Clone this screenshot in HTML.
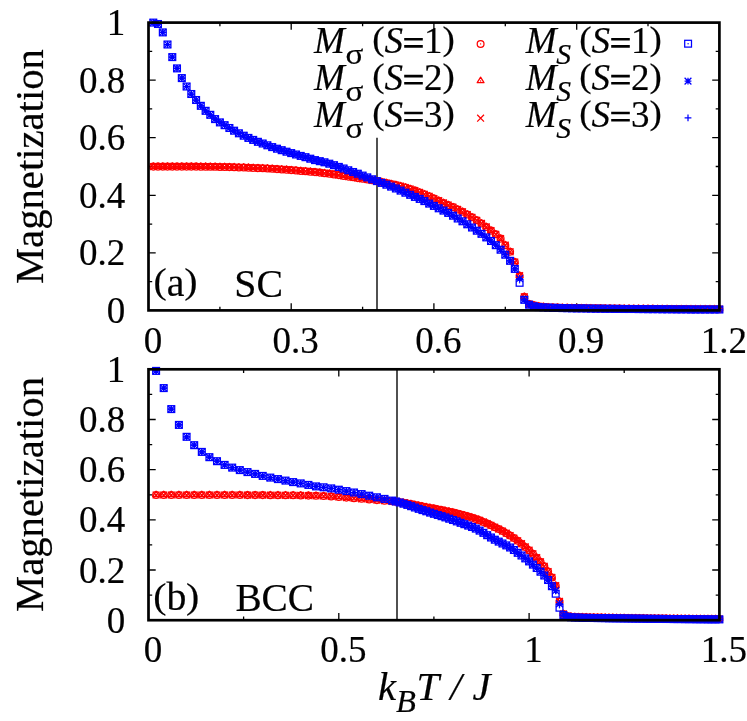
<!DOCTYPE html>
<html lang="en"><head><meta charset="utf-8"><title>Magnetization vs temperature</title>
<style>
html,body{margin:0;padding:0;background:#fff;}
body{width:747px;height:721px;overflow:hidden;font-family:"Liberation Serif",serif;}
svg{display:block;}
text{font-family:"Liberation Serif",serif;fill:#000;stroke:#000;stroke-width:0.2;}
.it{font-style:italic;}
.r{stroke:#f00;fill:none;stroke-width:1.25;}
.b{stroke:#00f;fill:none;stroke-width:1.25;}
.fr{fill:none;stroke:#000;stroke-width:2.7;}
.tk{stroke:#000;stroke-width:1.3;fill:none;}
</style></head><body>
<svg width="747" height="721" viewBox="0 0 747 721">
<rect x="0" y="0" width="747" height="721" fill="#fff"/>
<defs>
<g id="c" class="r"><circle r="3.4"/><circle r="0.7" fill="#f00" stroke="none"/></g>
<g id="t" class="r"><path d="M0 -3.8L3.4 1.7L-3.4 1.7Z" stroke-linejoin="round"/><circle r="0.7" fill="#f00" stroke="none"/></g>
<g id="x" class="r"><path d="M-3.4 -3.4L3.4 3.4M-3.4 3.4L3.4 -3.4"/></g>
<g id="s" class="b"><rect x="-3.4" y="-3.4" width="6.8" height="6.8"/><circle r="0.7" fill="#00f" stroke="none"/></g>
<g id="a" class="b"><path d="M-3.4 0H3.4M0 -3.4V3.4M-3.4 -3.4L3.4 3.4M-3.4 3.4L3.4 -3.4"/></g>
<g id="p" class="b"><path d="M-3.4 0H3.4M0 -3.4V3.4"/></g>
</defs>
<path class="tk" d="M291.2 310.4v-7.2 M291.2 22.6v7.2 M433.9 310.4v-7.2 M433.9 22.6v7.2 M576.7 310.4v-7.2 M576.7 22.6v7.2 M219.9 310.4v-3.7 M219.9 22.6v3.7 M362.6 310.4v-3.7 M362.6 22.6v3.7 M505.3 310.4v-3.7 M505.3 22.6v3.7 M648 310.4v-3.7 M648 22.6v3.7 M148.5 252.8h7.2 M719.4 252.8h-7.2 M148.5 195.3h7.2 M719.4 195.3h-7.2 M148.5 137.7h7.2 M719.4 137.7h-7.2 M148.5 80.2h7.2 M719.4 80.2h-7.2 M148.5 281.6h3.7 M719.4 281.6h-3.7 M148.5 224.1h3.7 M719.4 224.1h-3.7 M148.5 166.5h3.7 M719.4 166.5h-3.7 M148.5 108.9h3.7 M719.4 108.9h-3.7 M148.5 51.4h3.7 M719.4 51.4h-3.7"/>
<path class="tk" d="M338.8 620.2v-7.2 M338.8 369.3v7.2 M529.1 620.2v-7.2 M529.1 369.3v7.2 M243.6 620.2v-3.7 M243.6 369.3v3.7 M433.9 620.2v-3.7 M433.9 369.3v3.7 M624.2 620.2v-3.7 M624.2 369.3v3.7 M148.5 570h7.2 M719.4 570h-7.2 M148.5 519.8h7.2 M719.4 519.8h-7.2 M148.5 469.7h7.2 M719.4 469.7h-7.2 M148.5 419.5h7.2 M719.4 419.5h-7.2 M148.5 595.1h3.7 M719.4 595.1h-3.7 M148.5 544.9h3.7 M719.4 544.9h-3.7 M148.5 494.8h3.7 M719.4 494.8h-3.7 M148.5 444.6h3.7 M719.4 444.6h-3.7 M148.5 394.4h3.7 M719.4 394.4h-3.7"/>
<path d="M377 137.8V310.4" stroke="#484848" stroke-width="1.9" fill="none"/>
<path d="M397 369.3V620.2" stroke="#484848" stroke-width="1.9" fill="none"/>
<g id="panel-a-data">
<g>
<use href="#c" x="153.3" y="166.6"/>
<use href="#c" x="158" y="166.6"/>
<use href="#c" x="162.8" y="166.6"/>
<use href="#c" x="167.5" y="166.6"/>
<use href="#c" x="172.3" y="166.6"/>
<use href="#c" x="177" y="166.6"/>
<use href="#c" x="181.8" y="166.6"/>
<use href="#c" x="186.6" y="166.6"/>
<use href="#c" x="191.3" y="166.6"/>
<use href="#c" x="196.1" y="166.6"/>
<use href="#c" x="200.8" y="166.7"/>
<use href="#c" x="205.6" y="166.7"/>
<use href="#c" x="210.3" y="166.8"/>
<use href="#c" x="215.1" y="166.8"/>
<use href="#c" x="219.9" y="166.9"/>
<use href="#c" x="224.6" y="167"/>
<use href="#c" x="229.4" y="167.1"/>
<use href="#c" x="234.1" y="167.2"/>
<use href="#c" x="238.9" y="167.4"/>
<use href="#c" x="243.7" y="167.5"/>
<use href="#c" x="248.4" y="167.7"/>
<use href="#c" x="253.2" y="167.9"/>
<use href="#c" x="257.9" y="168.1"/>
<use href="#c" x="262.7" y="168.3"/>
<use href="#c" x="267.4" y="168.5"/>
<use href="#c" x="272.2" y="168.8"/>
<use href="#c" x="277" y="169.1"/>
<use href="#c" x="281.7" y="169.4"/>
<use href="#c" x="286.5" y="169.7"/>
<use href="#c" x="291.2" y="170.1"/>
<use href="#c" x="296" y="170.5"/>
<use href="#c" x="300.7" y="170.9"/>
<use href="#c" x="305.5" y="171.3"/>
<use href="#c" x="310.3" y="171.7"/>
<use href="#c" x="315" y="172.1"/>
<use href="#c" x="319.8" y="172.6"/>
<use href="#c" x="324.5" y="173.2"/>
<use href="#c" x="329.3" y="173.7"/>
<use href="#c" x="334" y="174.4"/>
<use href="#c" x="338.8" y="175.1"/>
<use href="#c" x="343.6" y="175.9"/>
<use href="#c" x="348.3" y="176.6"/>
<use href="#c" x="353.1" y="177.3"/>
<use href="#c" x="357.8" y="178.1"/>
<use href="#c" x="362.6" y="178.8"/>
<use href="#c" x="367.3" y="179.5"/>
<use href="#c" x="372.1" y="180.3"/>
<use href="#c" x="376.9" y="181.2"/>
<use href="#c" x="381.6" y="182"/>
<use href="#c" x="386.4" y="183"/>
<use href="#c" x="391.1" y="184"/>
<use href="#c" x="395.9" y="185"/>
<use href="#c" x="400.6" y="186.2"/>
<use href="#c" x="405.4" y="187.5"/>
<use href="#c" x="410.2" y="189"/>
<use href="#c" x="414.9" y="190.6"/>
<use href="#c" x="419.7" y="192.4"/>
<use href="#c" x="424.4" y="194.3"/>
<use href="#c" x="429.2" y="196.3"/>
<use href="#c" x="433.9" y="198.5"/>
<use href="#c" x="438.7" y="200.7"/>
<use href="#c" x="443.5" y="202.9"/>
<use href="#c" x="448.2" y="205"/>
<use href="#c" x="453" y="207.1"/>
<use href="#c" x="457.7" y="209.4"/>
<use href="#c" x="462.5" y="211.8"/>
<use href="#c" x="467.3" y="214.5"/>
<use href="#c" x="472" y="217.3"/>
<use href="#c" x="476.8" y="220.3"/>
<use href="#c" x="481.5" y="223.4"/>
<use href="#c" x="486.3" y="226.9"/>
<use href="#c" x="491" y="230.6"/>
<use href="#c" x="495.8" y="234.3"/>
<use href="#c" x="500.6" y="238.6"/>
<use href="#c" x="505.3" y="245.2"/>
<use href="#c" x="510.1" y="251.8"/>
<use href="#c" x="514.8" y="262"/>
<use href="#c" x="519.6" y="275.7"/>
<use href="#c" x="524.3" y="296.8"/>
<use href="#c" x="529.1" y="304.1"/>
<use href="#c" x="533.9" y="305.3"/>
<use href="#c" x="538.6" y="306.3"/>
<use href="#c" x="543.4" y="306.9"/>
<use href="#c" x="548.1" y="307.3"/>
<use href="#c" x="552.9" y="307.5"/>
<use href="#c" x="557.6" y="307.6"/>
<use href="#c" x="562.4" y="307.8"/>
<use href="#c" x="567.2" y="307.9"/>
<use href="#c" x="571.9" y="308"/>
<use href="#c" x="576.7" y="308.1"/>
<use href="#c" x="581.4" y="308.1"/>
<use href="#c" x="586.2" y="308.2"/>
<use href="#c" x="590.9" y="308.3"/>
<use href="#c" x="595.7" y="308.4"/>
<use href="#c" x="600.5" y="308.4"/>
<use href="#c" x="605.2" y="308.5"/>
<use href="#c" x="610" y="308.5"/>
<use href="#c" x="614.7" y="308.6"/>
<use href="#c" x="619.5" y="308.6"/>
<use href="#c" x="624.2" y="308.7"/>
<use href="#c" x="629" y="308.7"/>
<use href="#c" x="633.8" y="308.8"/>
<use href="#c" x="638.5" y="308.8"/>
<use href="#c" x="643.3" y="308.8"/>
<use href="#c" x="648" y="308.9"/>
<use href="#c" x="652.8" y="308.9"/>
<use href="#c" x="657.6" y="309"/>
<use href="#c" x="662.3" y="309"/>
<use href="#c" x="667.1" y="309"/>
<use href="#c" x="671.8" y="309.1"/>
<use href="#c" x="676.6" y="309.1"/>
<use href="#c" x="681.3" y="309.1"/>
<use href="#c" x="686.1" y="309.1"/>
<use href="#c" x="690.9" y="309.2"/>
<use href="#c" x="695.6" y="309.2"/>
<use href="#c" x="700.4" y="309.2"/>
<use href="#c" x="705.1" y="309.2"/>
<use href="#c" x="709.9" y="309.2"/>
<use href="#c" x="714.6" y="309.2"/>
<use href="#c" x="719.4" y="309.2"/>
</g>
<g>
<use href="#t" x="153.3" y="166.6"/>
<use href="#t" x="158" y="166.6"/>
<use href="#t" x="162.8" y="166.6"/>
<use href="#t" x="167.5" y="166.6"/>
<use href="#t" x="172.3" y="166.6"/>
<use href="#t" x="177" y="166.6"/>
<use href="#t" x="181.8" y="166.6"/>
<use href="#t" x="186.6" y="166.6"/>
<use href="#t" x="191.3" y="166.6"/>
<use href="#t" x="196.1" y="166.6"/>
<use href="#t" x="200.8" y="166.7"/>
<use href="#t" x="205.6" y="166.7"/>
<use href="#t" x="210.3" y="166.8"/>
<use href="#t" x="215.1" y="166.8"/>
<use href="#t" x="219.9" y="166.9"/>
<use href="#t" x="224.6" y="167"/>
<use href="#t" x="229.4" y="167.1"/>
<use href="#t" x="234.1" y="167.2"/>
<use href="#t" x="238.9" y="167.4"/>
<use href="#t" x="243.7" y="167.5"/>
<use href="#t" x="248.4" y="167.7"/>
<use href="#t" x="253.2" y="167.9"/>
<use href="#t" x="257.9" y="168.1"/>
<use href="#t" x="262.7" y="168.3"/>
<use href="#t" x="267.4" y="168.5"/>
<use href="#t" x="272.2" y="168.8"/>
<use href="#t" x="277" y="169.1"/>
<use href="#t" x="281.7" y="169.4"/>
<use href="#t" x="286.5" y="169.7"/>
<use href="#t" x="291.2" y="170.1"/>
<use href="#t" x="296" y="170.5"/>
<use href="#t" x="300.7" y="170.9"/>
<use href="#t" x="305.5" y="171.3"/>
<use href="#t" x="310.3" y="171.7"/>
<use href="#t" x="315" y="172.1"/>
<use href="#t" x="319.8" y="172.6"/>
<use href="#t" x="324.5" y="173.2"/>
<use href="#t" x="329.3" y="173.7"/>
<use href="#t" x="334" y="174.4"/>
<use href="#t" x="338.8" y="175.1"/>
<use href="#t" x="343.6" y="175.9"/>
<use href="#t" x="348.3" y="176.6"/>
<use href="#t" x="353.1" y="177.3"/>
<use href="#t" x="357.8" y="178.1"/>
<use href="#t" x="362.6" y="178.8"/>
<use href="#t" x="367.3" y="179.5"/>
<use href="#t" x="372.1" y="180.3"/>
<use href="#t" x="376.9" y="181.2"/>
<use href="#t" x="381.6" y="182"/>
<use href="#t" x="386.4" y="183"/>
<use href="#t" x="391.1" y="184"/>
<use href="#t" x="395.9" y="185"/>
<use href="#t" x="400.6" y="186.2"/>
<use href="#t" x="405.4" y="187.5"/>
<use href="#t" x="410.2" y="189"/>
<use href="#t" x="414.9" y="190.6"/>
<use href="#t" x="419.7" y="192.4"/>
<use href="#t" x="424.4" y="194.3"/>
<use href="#t" x="429.2" y="196.3"/>
<use href="#t" x="433.9" y="198.5"/>
<use href="#t" x="438.7" y="200.7"/>
<use href="#t" x="443.5" y="202.9"/>
<use href="#t" x="448.2" y="205"/>
<use href="#t" x="453" y="207.1"/>
<use href="#t" x="457.7" y="209.4"/>
<use href="#t" x="462.5" y="211.8"/>
<use href="#t" x="467.3" y="214.5"/>
<use href="#t" x="472" y="217.3"/>
<use href="#t" x="476.8" y="220.3"/>
<use href="#t" x="481.5" y="223.4"/>
<use href="#t" x="486.3" y="226.9"/>
<use href="#t" x="491" y="230.6"/>
<use href="#t" x="495.8" y="234.3"/>
<use href="#t" x="500.6" y="238.6"/>
<use href="#t" x="505.3" y="245.2"/>
<use href="#t" x="510.1" y="251.8"/>
<use href="#t" x="514.8" y="262"/>
<use href="#t" x="519.6" y="275.7"/>
<use href="#t" x="524.3" y="296.8"/>
<use href="#t" x="529.1" y="304.1"/>
<use href="#t" x="533.9" y="305.3"/>
<use href="#t" x="538.6" y="306.3"/>
<use href="#t" x="543.4" y="306.9"/>
<use href="#t" x="548.1" y="307.3"/>
<use href="#t" x="552.9" y="307.5"/>
<use href="#t" x="557.6" y="307.6"/>
<use href="#t" x="562.4" y="307.8"/>
<use href="#t" x="567.2" y="307.9"/>
<use href="#t" x="571.9" y="308"/>
<use href="#t" x="576.7" y="308.1"/>
<use href="#t" x="581.4" y="308.1"/>
<use href="#t" x="586.2" y="308.2"/>
<use href="#t" x="590.9" y="308.3"/>
<use href="#t" x="595.7" y="308.4"/>
<use href="#t" x="600.5" y="308.4"/>
<use href="#t" x="605.2" y="308.5"/>
<use href="#t" x="610" y="308.5"/>
<use href="#t" x="614.7" y="308.6"/>
<use href="#t" x="619.5" y="308.6"/>
<use href="#t" x="624.2" y="308.7"/>
<use href="#t" x="629" y="308.7"/>
<use href="#t" x="633.8" y="308.8"/>
<use href="#t" x="638.5" y="308.8"/>
<use href="#t" x="643.3" y="308.8"/>
<use href="#t" x="648" y="308.9"/>
<use href="#t" x="652.8" y="308.9"/>
<use href="#t" x="657.6" y="309"/>
<use href="#t" x="662.3" y="309"/>
<use href="#t" x="667.1" y="309"/>
<use href="#t" x="671.8" y="309.1"/>
<use href="#t" x="676.6" y="309.1"/>
<use href="#t" x="681.3" y="309.1"/>
<use href="#t" x="686.1" y="309.1"/>
<use href="#t" x="690.9" y="309.2"/>
<use href="#t" x="695.6" y="309.2"/>
<use href="#t" x="700.4" y="309.2"/>
<use href="#t" x="705.1" y="309.2"/>
<use href="#t" x="709.9" y="309.2"/>
<use href="#t" x="714.6" y="309.2"/>
<use href="#t" x="719.4" y="309.2"/>
</g>
<g>
<use href="#x" x="153.3" y="166.6"/>
<use href="#x" x="158" y="166.6"/>
<use href="#x" x="162.8" y="166.6"/>
<use href="#x" x="167.5" y="166.6"/>
<use href="#x" x="172.3" y="166.6"/>
<use href="#x" x="177" y="166.6"/>
<use href="#x" x="181.8" y="166.6"/>
<use href="#x" x="186.6" y="166.6"/>
<use href="#x" x="191.3" y="166.6"/>
<use href="#x" x="196.1" y="166.6"/>
<use href="#x" x="200.8" y="166.7"/>
<use href="#x" x="205.6" y="166.7"/>
<use href="#x" x="210.3" y="166.8"/>
<use href="#x" x="215.1" y="166.8"/>
<use href="#x" x="219.9" y="166.9"/>
<use href="#x" x="224.6" y="167"/>
<use href="#x" x="229.4" y="167.1"/>
<use href="#x" x="234.1" y="167.2"/>
<use href="#x" x="238.9" y="167.4"/>
<use href="#x" x="243.7" y="167.5"/>
<use href="#x" x="248.4" y="167.7"/>
<use href="#x" x="253.2" y="167.9"/>
<use href="#x" x="257.9" y="168.1"/>
<use href="#x" x="262.7" y="168.3"/>
<use href="#x" x="267.4" y="168.5"/>
<use href="#x" x="272.2" y="168.8"/>
<use href="#x" x="277" y="169.1"/>
<use href="#x" x="281.7" y="169.4"/>
<use href="#x" x="286.5" y="169.7"/>
<use href="#x" x="291.2" y="170.1"/>
<use href="#x" x="296" y="170.5"/>
<use href="#x" x="300.7" y="170.9"/>
<use href="#x" x="305.5" y="171.3"/>
<use href="#x" x="310.3" y="171.7"/>
<use href="#x" x="315" y="172.1"/>
<use href="#x" x="319.8" y="172.6"/>
<use href="#x" x="324.5" y="173.2"/>
<use href="#x" x="329.3" y="173.7"/>
<use href="#x" x="334" y="174.4"/>
<use href="#x" x="338.8" y="175.1"/>
<use href="#x" x="343.6" y="175.9"/>
<use href="#x" x="348.3" y="176.6"/>
<use href="#x" x="353.1" y="177.3"/>
<use href="#x" x="357.8" y="178.1"/>
<use href="#x" x="362.6" y="178.8"/>
<use href="#x" x="367.3" y="179.5"/>
<use href="#x" x="372.1" y="180.3"/>
<use href="#x" x="376.9" y="181.2"/>
<use href="#x" x="381.6" y="182"/>
<use href="#x" x="386.4" y="183"/>
<use href="#x" x="391.1" y="184"/>
<use href="#x" x="395.9" y="185"/>
<use href="#x" x="400.6" y="186.2"/>
<use href="#x" x="405.4" y="187.5"/>
<use href="#x" x="410.2" y="189"/>
<use href="#x" x="414.9" y="190.6"/>
<use href="#x" x="419.7" y="192.4"/>
<use href="#x" x="424.4" y="194.3"/>
<use href="#x" x="429.2" y="196.3"/>
<use href="#x" x="433.9" y="198.5"/>
<use href="#x" x="438.7" y="200.7"/>
<use href="#x" x="443.5" y="202.9"/>
<use href="#x" x="448.2" y="205"/>
<use href="#x" x="453" y="207.1"/>
<use href="#x" x="457.7" y="209.4"/>
<use href="#x" x="462.5" y="211.8"/>
<use href="#x" x="467.3" y="214.5"/>
<use href="#x" x="472" y="217.3"/>
<use href="#x" x="476.8" y="220.3"/>
<use href="#x" x="481.5" y="223.4"/>
<use href="#x" x="486.3" y="226.9"/>
<use href="#x" x="491" y="230.6"/>
<use href="#x" x="495.8" y="234.3"/>
<use href="#x" x="500.6" y="238.6"/>
<use href="#x" x="505.3" y="245.2"/>
<use href="#x" x="510.1" y="251.8"/>
<use href="#x" x="514.8" y="262"/>
<use href="#x" x="519.6" y="275.7"/>
<use href="#x" x="524.3" y="296.8"/>
<use href="#x" x="529.1" y="304.1"/>
<use href="#x" x="533.9" y="305.3"/>
<use href="#x" x="538.6" y="306.3"/>
<use href="#x" x="543.4" y="306.9"/>
<use href="#x" x="548.1" y="307.3"/>
<use href="#x" x="552.9" y="307.5"/>
<use href="#x" x="557.6" y="307.6"/>
<use href="#x" x="562.4" y="307.8"/>
<use href="#x" x="567.2" y="307.9"/>
<use href="#x" x="571.9" y="308"/>
<use href="#x" x="576.7" y="308.1"/>
<use href="#x" x="581.4" y="308.1"/>
<use href="#x" x="586.2" y="308.2"/>
<use href="#x" x="590.9" y="308.3"/>
<use href="#x" x="595.7" y="308.4"/>
<use href="#x" x="600.5" y="308.4"/>
<use href="#x" x="605.2" y="308.5"/>
<use href="#x" x="610" y="308.5"/>
<use href="#x" x="614.7" y="308.6"/>
<use href="#x" x="619.5" y="308.6"/>
<use href="#x" x="624.2" y="308.7"/>
<use href="#x" x="629" y="308.7"/>
<use href="#x" x="633.8" y="308.8"/>
<use href="#x" x="638.5" y="308.8"/>
<use href="#x" x="643.3" y="308.8"/>
<use href="#x" x="648" y="308.9"/>
<use href="#x" x="652.8" y="308.9"/>
<use href="#x" x="657.6" y="309"/>
<use href="#x" x="662.3" y="309"/>
<use href="#x" x="667.1" y="309"/>
<use href="#x" x="671.8" y="309.1"/>
<use href="#x" x="676.6" y="309.1"/>
<use href="#x" x="681.3" y="309.1"/>
<use href="#x" x="686.1" y="309.1"/>
<use href="#x" x="690.9" y="309.2"/>
<use href="#x" x="695.6" y="309.2"/>
<use href="#x" x="700.4" y="309.2"/>
<use href="#x" x="705.1" y="309.2"/>
<use href="#x" x="709.9" y="309.2"/>
<use href="#x" x="714.6" y="309.2"/>
<use href="#x" x="719.4" y="309.2"/>
</g>
<g>
<use href="#s" x="153.3" y="22.6"/>
<use href="#s" x="158" y="24"/>
<use href="#s" x="162.8" y="32.4"/>
<use href="#s" x="167.5" y="44.5"/>
<use href="#s" x="172.3" y="57.1"/>
<use href="#s" x="177" y="68.4"/>
<use href="#s" x="181.8" y="78.1"/>
<use href="#s" x="186.6" y="86.5"/>
<use href="#s" x="191.3" y="94"/>
<use href="#s" x="196.1" y="100"/>
<use href="#s" x="200.8" y="105.8"/>
<use href="#s" x="205.6" y="110.8"/>
<use href="#s" x="210.3" y="114.8"/>
<use href="#s" x="215.1" y="119.1"/>
<use href="#s" x="219.9" y="122.4"/>
<use href="#s" x="224.6" y="125.2"/>
<use href="#s" x="229.4" y="128"/>
<use href="#s" x="234.1" y="130.7"/>
<use href="#s" x="238.9" y="133.3"/>
<use href="#s" x="243.7" y="135.7"/>
<use href="#s" x="248.4" y="137.9"/>
<use href="#s" x="253.2" y="139.9"/>
<use href="#s" x="257.9" y="141.8"/>
<use href="#s" x="262.7" y="143.5"/>
<use href="#s" x="267.4" y="145.3"/>
<use href="#s" x="272.2" y="147.1"/>
<use href="#s" x="277" y="148.7"/>
<use href="#s" x="281.7" y="150.2"/>
<use href="#s" x="286.5" y="151.7"/>
<use href="#s" x="291.2" y="153.1"/>
<use href="#s" x="296" y="154.5"/>
<use href="#s" x="300.7" y="155.9"/>
<use href="#s" x="305.5" y="157.2"/>
<use href="#s" x="310.3" y="158.7"/>
<use href="#s" x="315" y="160.1"/>
<use href="#s" x="319.8" y="161.2"/>
<use href="#s" x="324.5" y="162.3"/>
<use href="#s" x="329.3" y="163.7"/>
<use href="#s" x="334" y="165.2"/>
<use href="#s" x="338.8" y="166.9"/>
<use href="#s" x="343.6" y="168.5"/>
<use href="#s" x="348.3" y="170.3"/>
<use href="#s" x="353.1" y="172"/>
<use href="#s" x="357.8" y="173.7"/>
<use href="#s" x="362.6" y="175.6"/>
<use href="#s" x="367.3" y="177.4"/>
<use href="#s" x="372.1" y="179.3"/>
<use href="#s" x="376.9" y="181.1"/>
<use href="#s" x="381.6" y="182.9"/>
<use href="#s" x="386.4" y="184.7"/>
<use href="#s" x="391.1" y="186.6"/>
<use href="#s" x="395.9" y="188.5"/>
<use href="#s" x="400.6" y="190.6"/>
<use href="#s" x="405.4" y="192.7"/>
<use href="#s" x="410.2" y="194.8"/>
<use href="#s" x="414.9" y="196.9"/>
<use href="#s" x="419.7" y="198.9"/>
<use href="#s" x="424.4" y="201.1"/>
<use href="#s" x="429.2" y="203.6"/>
<use href="#s" x="433.9" y="205.9"/>
<use href="#s" x="438.7" y="208.3"/>
<use href="#s" x="443.5" y="210.6"/>
<use href="#s" x="448.2" y="212.9"/>
<use href="#s" x="453" y="215.7"/>
<use href="#s" x="457.7" y="218.5"/>
<use href="#s" x="462.5" y="221.3"/>
<use href="#s" x="467.3" y="224.3"/>
<use href="#s" x="472" y="227.5"/>
<use href="#s" x="476.8" y="230.7"/>
<use href="#s" x="481.5" y="233.8"/>
<use href="#s" x="486.3" y="237.4"/>
<use href="#s" x="491" y="241"/>
<use href="#s" x="495.8" y="245.2"/>
<use href="#s" x="500.6" y="249.7"/>
<use href="#s" x="505.3" y="254.7"/>
<use href="#s" x="510.1" y="260.8"/>
<use href="#s" x="514.8" y="268.9"/>
<use href="#s" x="519.6" y="282.8"/>
<use href="#s" x="524.3" y="299.8"/>
<use href="#s" x="529.1" y="304.7"/>
<use href="#s" x="533.9" y="306.3"/>
<use href="#s" x="538.6" y="307.1"/>
<use href="#s" x="543.4" y="307.4"/>
<use href="#s" x="548.1" y="307.6"/>
<use href="#s" x="552.9" y="307.8"/>
<use href="#s" x="557.6" y="307.9"/>
<use href="#s" x="562.4" y="308.1"/>
<use href="#s" x="567.2" y="308.2"/>
<use href="#s" x="571.9" y="308.3"/>
<use href="#s" x="576.7" y="308.4"/>
<use href="#s" x="581.4" y="308.4"/>
<use href="#s" x="586.2" y="308.5"/>
<use href="#s" x="590.9" y="308.6"/>
<use href="#s" x="595.7" y="308.7"/>
<use href="#s" x="600.5" y="308.7"/>
<use href="#s" x="605.2" y="308.8"/>
<use href="#s" x="610" y="308.8"/>
<use href="#s" x="614.7" y="308.9"/>
<use href="#s" x="619.5" y="308.9"/>
<use href="#s" x="624.2" y="309"/>
<use href="#s" x="629" y="309"/>
<use href="#s" x="633.8" y="309"/>
<use href="#s" x="638.5" y="309.1"/>
<use href="#s" x="643.3" y="309.1"/>
<use href="#s" x="648" y="309.2"/>
<use href="#s" x="652.8" y="309.2"/>
<use href="#s" x="657.6" y="309.2"/>
<use href="#s" x="662.3" y="309.3"/>
<use href="#s" x="667.1" y="309.3"/>
<use href="#s" x="671.8" y="309.3"/>
<use href="#s" x="676.6" y="309.4"/>
<use href="#s" x="681.3" y="309.4"/>
<use href="#s" x="686.1" y="309.4"/>
<use href="#s" x="690.9" y="309.5"/>
<use href="#s" x="695.6" y="309.5"/>
<use href="#s" x="700.4" y="309.5"/>
<use href="#s" x="705.1" y="309.5"/>
<use href="#s" x="709.9" y="309.5"/>
<use href="#s" x="714.6" y="309.5"/>
<use href="#s" x="719.4" y="309.5"/>
</g>
<g>
<use href="#a" x="153.3" y="22.6"/>
<use href="#a" x="158" y="24"/>
<use href="#a" x="162.8" y="32.4"/>
<use href="#a" x="167.5" y="44.5"/>
<use href="#a" x="172.3" y="57.1"/>
<use href="#a" x="177" y="68.4"/>
<use href="#a" x="181.8" y="78.1"/>
<use href="#a" x="186.6" y="86.5"/>
<use href="#a" x="191.3" y="94"/>
<use href="#a" x="196.1" y="100"/>
<use href="#a" x="200.8" y="105.8"/>
<use href="#a" x="205.6" y="110.8"/>
<use href="#a" x="210.3" y="114.8"/>
<use href="#a" x="215.1" y="119.1"/>
<use href="#a" x="219.9" y="122.4"/>
<use href="#a" x="224.6" y="125.2"/>
<use href="#a" x="229.4" y="128"/>
<use href="#a" x="234.1" y="130.7"/>
<use href="#a" x="238.9" y="133.3"/>
<use href="#a" x="243.7" y="135.7"/>
<use href="#a" x="248.4" y="137.9"/>
<use href="#a" x="253.2" y="139.9"/>
<use href="#a" x="257.9" y="141.8"/>
<use href="#a" x="262.7" y="143.5"/>
<use href="#a" x="267.4" y="145.3"/>
<use href="#a" x="272.2" y="147.1"/>
<use href="#a" x="277" y="148.7"/>
<use href="#a" x="281.7" y="150.2"/>
<use href="#a" x="286.5" y="151.7"/>
<use href="#a" x="291.2" y="153.1"/>
<use href="#a" x="296" y="154.5"/>
<use href="#a" x="300.7" y="155.9"/>
<use href="#a" x="305.5" y="157.2"/>
<use href="#a" x="310.3" y="158.7"/>
<use href="#a" x="315" y="160.1"/>
<use href="#a" x="319.8" y="161.2"/>
<use href="#a" x="324.5" y="162.3"/>
<use href="#a" x="329.3" y="163.7"/>
<use href="#a" x="334" y="165.2"/>
<use href="#a" x="338.8" y="166.9"/>
<use href="#a" x="343.6" y="168.5"/>
<use href="#a" x="348.3" y="170.3"/>
<use href="#a" x="353.1" y="172"/>
<use href="#a" x="357.8" y="173.7"/>
<use href="#a" x="362.6" y="175.6"/>
<use href="#a" x="367.3" y="177.4"/>
<use href="#a" x="372.1" y="179.3"/>
<use href="#a" x="376.9" y="181.1"/>
<use href="#a" x="381.6" y="182.9"/>
<use href="#a" x="386.4" y="184.7"/>
<use href="#a" x="391.1" y="186.6"/>
<use href="#a" x="395.9" y="188.5"/>
<use href="#a" x="400.6" y="190.6"/>
<use href="#a" x="405.4" y="192.7"/>
<use href="#a" x="410.2" y="194.8"/>
<use href="#a" x="414.9" y="196.9"/>
<use href="#a" x="419.7" y="198.9"/>
<use href="#a" x="424.4" y="201.1"/>
<use href="#a" x="429.2" y="203.6"/>
<use href="#a" x="433.9" y="205.9"/>
<use href="#a" x="438.7" y="208.3"/>
<use href="#a" x="443.5" y="210.6"/>
<use href="#a" x="448.2" y="212.9"/>
<use href="#a" x="453" y="215.7"/>
<use href="#a" x="457.7" y="218.5"/>
<use href="#a" x="462.5" y="221.3"/>
<use href="#a" x="467.3" y="224.3"/>
<use href="#a" x="472" y="227.5"/>
<use href="#a" x="476.8" y="230.7"/>
<use href="#a" x="481.5" y="233.8"/>
<use href="#a" x="486.3" y="237.4"/>
<use href="#a" x="491" y="241"/>
<use href="#a" x="495.8" y="245.2"/>
<use href="#a" x="500.6" y="249.7"/>
<use href="#a" x="505.3" y="254.7"/>
<use href="#a" x="510.1" y="260.8"/>
<use href="#a" x="514.8" y="268.9"/>
<use href="#a" x="519.6" y="278.7"/>
<use href="#a" x="524.3" y="299.8"/>
<use href="#a" x="529.1" y="304.7"/>
<use href="#a" x="533.9" y="306.3"/>
<use href="#a" x="538.6" y="307.1"/>
<use href="#a" x="543.4" y="307.4"/>
<use href="#a" x="548.1" y="307.6"/>
<use href="#a" x="552.9" y="307.8"/>
<use href="#a" x="557.6" y="307.9"/>
<use href="#a" x="562.4" y="308.1"/>
<use href="#a" x="567.2" y="308.2"/>
<use href="#a" x="571.9" y="308.3"/>
<use href="#a" x="576.7" y="308.4"/>
<use href="#a" x="581.4" y="308.4"/>
<use href="#a" x="586.2" y="308.5"/>
<use href="#a" x="590.9" y="308.6"/>
<use href="#a" x="595.7" y="308.7"/>
<use href="#a" x="600.5" y="308.7"/>
<use href="#a" x="605.2" y="308.8"/>
<use href="#a" x="610" y="308.8"/>
<use href="#a" x="614.7" y="308.9"/>
<use href="#a" x="619.5" y="308.9"/>
<use href="#a" x="624.2" y="309"/>
<use href="#a" x="629" y="309"/>
<use href="#a" x="633.8" y="309"/>
<use href="#a" x="638.5" y="309.1"/>
<use href="#a" x="643.3" y="309.1"/>
<use href="#a" x="648" y="309.2"/>
<use href="#a" x="652.8" y="309.2"/>
<use href="#a" x="657.6" y="309.2"/>
<use href="#a" x="662.3" y="309.3"/>
<use href="#a" x="667.1" y="309.3"/>
<use href="#a" x="671.8" y="309.3"/>
<use href="#a" x="676.6" y="309.4"/>
<use href="#a" x="681.3" y="309.4"/>
<use href="#a" x="686.1" y="309.4"/>
<use href="#a" x="690.9" y="309.5"/>
<use href="#a" x="695.6" y="309.5"/>
<use href="#a" x="700.4" y="309.5"/>
<use href="#a" x="705.1" y="309.5"/>
<use href="#a" x="709.9" y="309.5"/>
<use href="#a" x="714.6" y="309.5"/>
<use href="#a" x="719.4" y="309.5"/>
</g>
<g>
<use href="#p" x="153.3" y="22.6"/>
<use href="#p" x="158" y="24"/>
<use href="#p" x="162.8" y="32.4"/>
<use href="#p" x="167.5" y="44.5"/>
<use href="#p" x="172.3" y="57.1"/>
<use href="#p" x="177" y="68.4"/>
<use href="#p" x="181.8" y="78.1"/>
<use href="#p" x="186.6" y="86.5"/>
<use href="#p" x="191.3" y="94"/>
<use href="#p" x="196.1" y="100"/>
<use href="#p" x="200.8" y="105.8"/>
<use href="#p" x="205.6" y="110.8"/>
<use href="#p" x="210.3" y="114.8"/>
<use href="#p" x="215.1" y="119.1"/>
<use href="#p" x="219.9" y="122.4"/>
<use href="#p" x="224.6" y="125.2"/>
<use href="#p" x="229.4" y="128"/>
<use href="#p" x="234.1" y="130.7"/>
<use href="#p" x="238.9" y="133.3"/>
<use href="#p" x="243.7" y="135.7"/>
<use href="#p" x="248.4" y="137.9"/>
<use href="#p" x="253.2" y="139.9"/>
<use href="#p" x="257.9" y="141.8"/>
<use href="#p" x="262.7" y="143.5"/>
<use href="#p" x="267.4" y="145.3"/>
<use href="#p" x="272.2" y="147.1"/>
<use href="#p" x="277" y="148.7"/>
<use href="#p" x="281.7" y="150.2"/>
<use href="#p" x="286.5" y="151.7"/>
<use href="#p" x="291.2" y="153.1"/>
<use href="#p" x="296" y="154.5"/>
<use href="#p" x="300.7" y="155.9"/>
<use href="#p" x="305.5" y="157.2"/>
<use href="#p" x="310.3" y="158.7"/>
<use href="#p" x="315" y="160.1"/>
<use href="#p" x="319.8" y="161.2"/>
<use href="#p" x="324.5" y="162.3"/>
<use href="#p" x="329.3" y="163.7"/>
<use href="#p" x="334" y="165.2"/>
<use href="#p" x="338.8" y="166.9"/>
<use href="#p" x="343.6" y="168.5"/>
<use href="#p" x="348.3" y="170.3"/>
<use href="#p" x="353.1" y="172"/>
<use href="#p" x="357.8" y="173.7"/>
<use href="#p" x="362.6" y="175.6"/>
<use href="#p" x="367.3" y="177.4"/>
<use href="#p" x="372.1" y="179.3"/>
<use href="#p" x="376.9" y="181.1"/>
<use href="#p" x="381.6" y="182.9"/>
<use href="#p" x="386.4" y="184.7"/>
<use href="#p" x="391.1" y="186.6"/>
<use href="#p" x="395.9" y="188.5"/>
<use href="#p" x="400.6" y="190.6"/>
<use href="#p" x="405.4" y="192.7"/>
<use href="#p" x="410.2" y="194.8"/>
<use href="#p" x="414.9" y="196.9"/>
<use href="#p" x="419.7" y="198.9"/>
<use href="#p" x="424.4" y="201.1"/>
<use href="#p" x="429.2" y="203.6"/>
<use href="#p" x="433.9" y="205.9"/>
<use href="#p" x="438.7" y="208.3"/>
<use href="#p" x="443.5" y="210.6"/>
<use href="#p" x="448.2" y="212.9"/>
<use href="#p" x="453" y="215.7"/>
<use href="#p" x="457.7" y="218.5"/>
<use href="#p" x="462.5" y="221.3"/>
<use href="#p" x="467.3" y="224.3"/>
<use href="#p" x="472" y="227.5"/>
<use href="#p" x="476.8" y="230.7"/>
<use href="#p" x="481.5" y="233.8"/>
<use href="#p" x="486.3" y="237.4"/>
<use href="#p" x="491" y="241"/>
<use href="#p" x="495.8" y="245.2"/>
<use href="#p" x="500.6" y="249.7"/>
<use href="#p" x="505.3" y="254.7"/>
<use href="#p" x="510.1" y="260.8"/>
<use href="#p" x="514.8" y="268.9"/>
<use href="#p" x="519.6" y="278.7"/>
<use href="#p" x="524.3" y="299.8"/>
<use href="#p" x="529.1" y="304.7"/>
<use href="#p" x="533.9" y="306.3"/>
<use href="#p" x="538.6" y="307.1"/>
<use href="#p" x="543.4" y="307.4"/>
<use href="#p" x="548.1" y="307.6"/>
<use href="#p" x="552.9" y="307.8"/>
<use href="#p" x="557.6" y="307.9"/>
<use href="#p" x="562.4" y="308.1"/>
<use href="#p" x="567.2" y="308.2"/>
<use href="#p" x="571.9" y="308.3"/>
<use href="#p" x="576.7" y="308.4"/>
<use href="#p" x="581.4" y="308.4"/>
<use href="#p" x="586.2" y="308.5"/>
<use href="#p" x="590.9" y="308.6"/>
<use href="#p" x="595.7" y="308.7"/>
<use href="#p" x="600.5" y="308.7"/>
<use href="#p" x="605.2" y="308.8"/>
<use href="#p" x="610" y="308.8"/>
<use href="#p" x="614.7" y="308.9"/>
<use href="#p" x="619.5" y="308.9"/>
<use href="#p" x="624.2" y="309"/>
<use href="#p" x="629" y="309"/>
<use href="#p" x="633.8" y="309"/>
<use href="#p" x="638.5" y="309.1"/>
<use href="#p" x="643.3" y="309.1"/>
<use href="#p" x="648" y="309.2"/>
<use href="#p" x="652.8" y="309.2"/>
<use href="#p" x="657.6" y="309.2"/>
<use href="#p" x="662.3" y="309.3"/>
<use href="#p" x="667.1" y="309.3"/>
<use href="#p" x="671.8" y="309.3"/>
<use href="#p" x="676.6" y="309.4"/>
<use href="#p" x="681.3" y="309.4"/>
<use href="#p" x="686.1" y="309.4"/>
<use href="#p" x="690.9" y="309.5"/>
<use href="#p" x="695.6" y="309.5"/>
<use href="#p" x="700.4" y="309.5"/>
<use href="#p" x="705.1" y="309.5"/>
<use href="#p" x="709.9" y="309.5"/>
<use href="#p" x="714.6" y="309.5"/>
<use href="#p" x="719.4" y="309.5"/>
</g>
</g>
<g id="panel-b-data">
<g>
<use href="#c" x="156.1" y="495"/>
<use href="#c" x="163.7" y="495"/>
<use href="#c" x="171.3" y="495"/>
<use href="#c" x="178.9" y="495"/>
<use href="#c" x="186.6" y="495"/>
<use href="#c" x="194.2" y="495"/>
<use href="#c" x="201.8" y="495"/>
<use href="#c" x="209.4" y="495"/>
<use href="#c" x="217" y="495"/>
<use href="#c" x="224.6" y="495"/>
<use href="#c" x="232.2" y="495"/>
<use href="#c" x="239.8" y="495"/>
<use href="#c" x="247.5" y="495.1"/>
<use href="#c" x="255.1" y="495.1"/>
<use href="#c" x="262.7" y="495.1"/>
<use href="#c" x="270.3" y="495.2"/>
<use href="#c" x="277.9" y="495.2"/>
<use href="#c" x="285.5" y="495.3"/>
<use href="#c" x="293.1" y="495.3"/>
<use href="#c" x="300.7" y="495.4"/>
<use href="#c" x="308.4" y="495.6"/>
<use href="#c" x="316" y="495.8"/>
<use href="#c" x="323.6" y="496"/>
<use href="#c" x="331.2" y="496.4"/>
<use href="#c" x="338.8" y="497"/>
<use href="#c" x="346.4" y="497.6"/>
<use href="#c" x="354" y="498.2"/>
<use href="#c" x="361.6" y="498.8"/>
<use href="#c" x="369.2" y="499.4"/>
<use href="#c" x="376.9" y="500.1"/>
<use href="#c" x="384.5" y="500.7"/>
<use href="#c" x="392.1" y="501.3"/>
<use href="#c" x="395.9" y="501.7"/>
<use href="#c" x="399.7" y="502.2"/>
<use href="#c" x="403.5" y="502.8"/>
<use href="#c" x="407.3" y="503.4"/>
<use href="#c" x="411.1" y="504.1"/>
<use href="#c" x="414.9" y="504.9"/>
<use href="#c" x="418.7" y="505.7"/>
<use href="#c" x="422.5" y="506.5"/>
<use href="#c" x="426.3" y="507.2"/>
<use href="#c" x="430.1" y="507.9"/>
<use href="#c" x="433.9" y="508.6"/>
<use href="#c" x="437.8" y="509.4"/>
<use href="#c" x="441.6" y="510.1"/>
<use href="#c" x="445.4" y="510.9"/>
<use href="#c" x="449.2" y="511.7"/>
<use href="#c" x="453" y="512.6"/>
<use href="#c" x="456.8" y="513.5"/>
<use href="#c" x="460.6" y="514.5"/>
<use href="#c" x="464.4" y="515.5"/>
<use href="#c" x="468.2" y="516.6"/>
<use href="#c" x="472" y="517.7"/>
<use href="#c" x="475.8" y="518.9"/>
<use href="#c" x="479.6" y="520.3"/>
<use href="#c" x="483.4" y="521.9"/>
<use href="#c" x="487.2" y="523.6"/>
<use href="#c" x="491" y="525.3"/>
<use href="#c" x="494.8" y="527.2"/>
<use href="#c" x="498.7" y="529.1"/>
<use href="#c" x="502.5" y="531.1"/>
<use href="#c" x="506.3" y="533.2"/>
<use href="#c" x="510.1" y="535.5"/>
<use href="#c" x="513.9" y="538.1"/>
<use href="#c" x="517.7" y="540.8"/>
<use href="#c" x="521.5" y="543.7"/>
<use href="#c" x="525.3" y="546.9"/>
<use href="#c" x="529.1" y="550.2"/>
<use href="#c" x="532.9" y="553.8"/>
<use href="#c" x="536.7" y="557.7"/>
<use href="#c" x="540.5" y="561.8"/>
<use href="#c" x="544.3" y="566.3"/>
<use href="#c" x="548.1" y="571.5"/>
<use href="#c" x="551.9" y="577.4"/>
<use href="#c" x="555.7" y="585.7"/>
<use href="#c" x="559.5" y="601.4"/>
<use href="#c" x="563.4" y="613.9"/>
<use href="#c" x="567.2" y="616.1"/>
<use href="#c" x="571" y="616.7"/>
<use href="#c" x="574.8" y="616.9"/>
<use href="#c" x="578.6" y="617.1"/>
<use href="#c" x="582.4" y="617.2"/>
<use href="#c" x="586.2" y="617.3"/>
<use href="#c" x="590" y="617.4"/>
<use href="#c" x="593.8" y="617.5"/>
<use href="#c" x="597.6" y="617.6"/>
<use href="#c" x="601.4" y="617.6"/>
<use href="#c" x="605.2" y="617.7"/>
<use href="#c" x="609" y="617.8"/>
<use href="#c" x="612.8" y="617.8"/>
<use href="#c" x="616.6" y="617.9"/>
<use href="#c" x="620.4" y="618"/>
<use href="#c" x="624.2" y="618"/>
<use href="#c" x="628.1" y="618.1"/>
<use href="#c" x="631.9" y="618.2"/>
<use href="#c" x="635.7" y="618.2"/>
<use href="#c" x="639.5" y="618.3"/>
<use href="#c" x="643.3" y="618.3"/>
<use href="#c" x="647.1" y="618.4"/>
<use href="#c" x="650.9" y="618.4"/>
<use href="#c" x="654.7" y="618.5"/>
<use href="#c" x="658.5" y="618.5"/>
<use href="#c" x="662.3" y="618.6"/>
<use href="#c" x="666.1" y="618.6"/>
<use href="#c" x="669.9" y="618.7"/>
<use href="#c" x="673.7" y="618.7"/>
<use href="#c" x="677.5" y="618.7"/>
<use href="#c" x="681.3" y="618.8"/>
<use href="#c" x="685.1" y="618.8"/>
<use href="#c" x="689" y="618.8"/>
<use href="#c" x="692.8" y="618.9"/>
<use href="#c" x="696.6" y="618.9"/>
<use href="#c" x="700.4" y="618.9"/>
<use href="#c" x="704.2" y="619"/>
<use href="#c" x="708" y="619"/>
<use href="#c" x="711.8" y="619"/>
<use href="#c" x="715.6" y="619"/>
<use href="#c" x="719.4" y="619.1"/>
</g>
<g>
<use href="#t" x="156.1" y="495"/>
<use href="#t" x="163.7" y="495"/>
<use href="#t" x="171.3" y="495"/>
<use href="#t" x="178.9" y="495"/>
<use href="#t" x="186.6" y="495"/>
<use href="#t" x="194.2" y="495"/>
<use href="#t" x="201.8" y="495"/>
<use href="#t" x="209.4" y="495"/>
<use href="#t" x="217" y="495"/>
<use href="#t" x="224.6" y="495"/>
<use href="#t" x="232.2" y="495"/>
<use href="#t" x="239.8" y="495"/>
<use href="#t" x="247.5" y="495.1"/>
<use href="#t" x="255.1" y="495.1"/>
<use href="#t" x="262.7" y="495.1"/>
<use href="#t" x="270.3" y="495.2"/>
<use href="#t" x="277.9" y="495.2"/>
<use href="#t" x="285.5" y="495.3"/>
<use href="#t" x="293.1" y="495.3"/>
<use href="#t" x="300.7" y="495.4"/>
<use href="#t" x="308.4" y="495.6"/>
<use href="#t" x="316" y="495.8"/>
<use href="#t" x="323.6" y="496"/>
<use href="#t" x="331.2" y="496.4"/>
<use href="#t" x="338.8" y="497"/>
<use href="#t" x="346.4" y="497.6"/>
<use href="#t" x="354" y="498.2"/>
<use href="#t" x="361.6" y="498.8"/>
<use href="#t" x="369.2" y="499.4"/>
<use href="#t" x="376.9" y="500.1"/>
<use href="#t" x="384.5" y="500.7"/>
<use href="#t" x="392.1" y="501.3"/>
<use href="#t" x="395.9" y="501.7"/>
<use href="#t" x="399.7" y="502.2"/>
<use href="#t" x="403.5" y="502.8"/>
<use href="#t" x="407.3" y="503.4"/>
<use href="#t" x="411.1" y="504.1"/>
<use href="#t" x="414.9" y="504.9"/>
<use href="#t" x="418.7" y="505.7"/>
<use href="#t" x="422.5" y="506.5"/>
<use href="#t" x="426.3" y="507.2"/>
<use href="#t" x="430.1" y="507.9"/>
<use href="#t" x="433.9" y="508.6"/>
<use href="#t" x="437.8" y="509.4"/>
<use href="#t" x="441.6" y="510.1"/>
<use href="#t" x="445.4" y="510.9"/>
<use href="#t" x="449.2" y="511.7"/>
<use href="#t" x="453" y="512.6"/>
<use href="#t" x="456.8" y="513.5"/>
<use href="#t" x="460.6" y="514.5"/>
<use href="#t" x="464.4" y="515.5"/>
<use href="#t" x="468.2" y="516.6"/>
<use href="#t" x="472" y="517.7"/>
<use href="#t" x="475.8" y="518.9"/>
<use href="#t" x="479.6" y="520.3"/>
<use href="#t" x="483.4" y="521.9"/>
<use href="#t" x="487.2" y="523.6"/>
<use href="#t" x="491" y="525.3"/>
<use href="#t" x="494.8" y="527.2"/>
<use href="#t" x="498.7" y="529.1"/>
<use href="#t" x="502.5" y="531.1"/>
<use href="#t" x="506.3" y="533.2"/>
<use href="#t" x="510.1" y="535.5"/>
<use href="#t" x="513.9" y="538.1"/>
<use href="#t" x="517.7" y="540.8"/>
<use href="#t" x="521.5" y="543.7"/>
<use href="#t" x="525.3" y="546.9"/>
<use href="#t" x="529.1" y="550.2"/>
<use href="#t" x="532.9" y="553.8"/>
<use href="#t" x="536.7" y="557.7"/>
<use href="#t" x="540.5" y="561.8"/>
<use href="#t" x="544.3" y="566.3"/>
<use href="#t" x="548.1" y="571.5"/>
<use href="#t" x="551.9" y="577.4"/>
<use href="#t" x="555.7" y="585.7"/>
<use href="#t" x="559.5" y="601.4"/>
<use href="#t" x="563.4" y="613.9"/>
<use href="#t" x="567.2" y="616.1"/>
<use href="#t" x="571" y="616.7"/>
<use href="#t" x="574.8" y="616.9"/>
<use href="#t" x="578.6" y="617.1"/>
<use href="#t" x="582.4" y="617.2"/>
<use href="#t" x="586.2" y="617.3"/>
<use href="#t" x="590" y="617.4"/>
<use href="#t" x="593.8" y="617.5"/>
<use href="#t" x="597.6" y="617.6"/>
<use href="#t" x="601.4" y="617.6"/>
<use href="#t" x="605.2" y="617.7"/>
<use href="#t" x="609" y="617.8"/>
<use href="#t" x="612.8" y="617.8"/>
<use href="#t" x="616.6" y="617.9"/>
<use href="#t" x="620.4" y="618"/>
<use href="#t" x="624.2" y="618"/>
<use href="#t" x="628.1" y="618.1"/>
<use href="#t" x="631.9" y="618.2"/>
<use href="#t" x="635.7" y="618.2"/>
<use href="#t" x="639.5" y="618.3"/>
<use href="#t" x="643.3" y="618.3"/>
<use href="#t" x="647.1" y="618.4"/>
<use href="#t" x="650.9" y="618.4"/>
<use href="#t" x="654.7" y="618.5"/>
<use href="#t" x="658.5" y="618.5"/>
<use href="#t" x="662.3" y="618.6"/>
<use href="#t" x="666.1" y="618.6"/>
<use href="#t" x="669.9" y="618.7"/>
<use href="#t" x="673.7" y="618.7"/>
<use href="#t" x="677.5" y="618.7"/>
<use href="#t" x="681.3" y="618.8"/>
<use href="#t" x="685.1" y="618.8"/>
<use href="#t" x="689" y="618.8"/>
<use href="#t" x="692.8" y="618.9"/>
<use href="#t" x="696.6" y="618.9"/>
<use href="#t" x="700.4" y="618.9"/>
<use href="#t" x="704.2" y="619"/>
<use href="#t" x="708" y="619"/>
<use href="#t" x="711.8" y="619"/>
<use href="#t" x="715.6" y="619"/>
<use href="#t" x="719.4" y="619.1"/>
</g>
<g>
<use href="#x" x="156.1" y="495"/>
<use href="#x" x="163.7" y="495"/>
<use href="#x" x="171.3" y="495"/>
<use href="#x" x="178.9" y="495"/>
<use href="#x" x="186.6" y="495"/>
<use href="#x" x="194.2" y="495"/>
<use href="#x" x="201.8" y="495"/>
<use href="#x" x="209.4" y="495"/>
<use href="#x" x="217" y="495"/>
<use href="#x" x="224.6" y="495"/>
<use href="#x" x="232.2" y="495"/>
<use href="#x" x="239.8" y="495"/>
<use href="#x" x="247.5" y="495.1"/>
<use href="#x" x="255.1" y="495.1"/>
<use href="#x" x="262.7" y="495.1"/>
<use href="#x" x="270.3" y="495.2"/>
<use href="#x" x="277.9" y="495.2"/>
<use href="#x" x="285.5" y="495.3"/>
<use href="#x" x="293.1" y="495.3"/>
<use href="#x" x="300.7" y="495.4"/>
<use href="#x" x="308.4" y="495.6"/>
<use href="#x" x="316" y="495.8"/>
<use href="#x" x="323.6" y="496"/>
<use href="#x" x="331.2" y="496.4"/>
<use href="#x" x="338.8" y="497"/>
<use href="#x" x="346.4" y="497.6"/>
<use href="#x" x="354" y="498.2"/>
<use href="#x" x="361.6" y="498.8"/>
<use href="#x" x="369.2" y="499.4"/>
<use href="#x" x="376.9" y="500.1"/>
<use href="#x" x="384.5" y="500.7"/>
<use href="#x" x="392.1" y="501.3"/>
<use href="#x" x="395.9" y="501.7"/>
<use href="#x" x="399.7" y="502.2"/>
<use href="#x" x="403.5" y="502.8"/>
<use href="#x" x="407.3" y="503.4"/>
<use href="#x" x="411.1" y="504.1"/>
<use href="#x" x="414.9" y="504.9"/>
<use href="#x" x="418.7" y="505.7"/>
<use href="#x" x="422.5" y="506.5"/>
<use href="#x" x="426.3" y="507.2"/>
<use href="#x" x="430.1" y="507.9"/>
<use href="#x" x="433.9" y="508.6"/>
<use href="#x" x="437.8" y="509.4"/>
<use href="#x" x="441.6" y="510.1"/>
<use href="#x" x="445.4" y="510.9"/>
<use href="#x" x="449.2" y="511.7"/>
<use href="#x" x="453" y="512.6"/>
<use href="#x" x="456.8" y="513.5"/>
<use href="#x" x="460.6" y="514.5"/>
<use href="#x" x="464.4" y="515.5"/>
<use href="#x" x="468.2" y="516.6"/>
<use href="#x" x="472" y="517.7"/>
<use href="#x" x="475.8" y="518.9"/>
<use href="#x" x="479.6" y="520.3"/>
<use href="#x" x="483.4" y="521.9"/>
<use href="#x" x="487.2" y="523.6"/>
<use href="#x" x="491" y="525.3"/>
<use href="#x" x="494.8" y="527.2"/>
<use href="#x" x="498.7" y="529.1"/>
<use href="#x" x="502.5" y="531.1"/>
<use href="#x" x="506.3" y="533.2"/>
<use href="#x" x="510.1" y="535.5"/>
<use href="#x" x="513.9" y="538.1"/>
<use href="#x" x="517.7" y="540.8"/>
<use href="#x" x="521.5" y="543.7"/>
<use href="#x" x="525.3" y="546.9"/>
<use href="#x" x="529.1" y="550.2"/>
<use href="#x" x="532.9" y="553.8"/>
<use href="#x" x="536.7" y="557.7"/>
<use href="#x" x="540.5" y="561.8"/>
<use href="#x" x="544.3" y="566.3"/>
<use href="#x" x="548.1" y="571.5"/>
<use href="#x" x="551.9" y="577.4"/>
<use href="#x" x="555.7" y="585.7"/>
<use href="#x" x="559.5" y="601.4"/>
<use href="#x" x="563.4" y="613.9"/>
<use href="#x" x="567.2" y="616.1"/>
<use href="#x" x="571" y="616.7"/>
<use href="#x" x="574.8" y="616.9"/>
<use href="#x" x="578.6" y="617.1"/>
<use href="#x" x="582.4" y="617.2"/>
<use href="#x" x="586.2" y="617.3"/>
<use href="#x" x="590" y="617.4"/>
<use href="#x" x="593.8" y="617.5"/>
<use href="#x" x="597.6" y="617.6"/>
<use href="#x" x="601.4" y="617.6"/>
<use href="#x" x="605.2" y="617.7"/>
<use href="#x" x="609" y="617.8"/>
<use href="#x" x="612.8" y="617.8"/>
<use href="#x" x="616.6" y="617.9"/>
<use href="#x" x="620.4" y="618"/>
<use href="#x" x="624.2" y="618"/>
<use href="#x" x="628.1" y="618.1"/>
<use href="#x" x="631.9" y="618.2"/>
<use href="#x" x="635.7" y="618.2"/>
<use href="#x" x="639.5" y="618.3"/>
<use href="#x" x="643.3" y="618.3"/>
<use href="#x" x="647.1" y="618.4"/>
<use href="#x" x="650.9" y="618.4"/>
<use href="#x" x="654.7" y="618.5"/>
<use href="#x" x="658.5" y="618.5"/>
<use href="#x" x="662.3" y="618.6"/>
<use href="#x" x="666.1" y="618.6"/>
<use href="#x" x="669.9" y="618.7"/>
<use href="#x" x="673.7" y="618.7"/>
<use href="#x" x="677.5" y="618.7"/>
<use href="#x" x="681.3" y="618.8"/>
<use href="#x" x="685.1" y="618.8"/>
<use href="#x" x="689" y="618.8"/>
<use href="#x" x="692.8" y="618.9"/>
<use href="#x" x="696.6" y="618.9"/>
<use href="#x" x="700.4" y="618.9"/>
<use href="#x" x="704.2" y="619"/>
<use href="#x" x="708" y="619"/>
<use href="#x" x="711.8" y="619"/>
<use href="#x" x="715.6" y="619"/>
<use href="#x" x="719.4" y="619.1"/>
</g>
<g>
<use href="#s" x="156.1" y="370.9"/>
<use href="#s" x="163.7" y="388.1"/>
<use href="#s" x="171.3" y="409.1"/>
<use href="#s" x="178.9" y="424.9"/>
<use href="#s" x="186.6" y="436.8"/>
<use href="#s" x="194.2" y="445.2"/>
<use href="#s" x="201.8" y="451.9"/>
<use href="#s" x="209.4" y="457.2"/>
<use href="#s" x="217" y="461.2"/>
<use href="#s" x="224.6" y="464.9"/>
<use href="#s" x="232.2" y="467.6"/>
<use href="#s" x="239.8" y="470.1"/>
<use href="#s" x="247.5" y="472.1"/>
<use href="#s" x="255.1" y="473.9"/>
<use href="#s" x="262.7" y="475.9"/>
<use href="#s" x="270.3" y="477.6"/>
<use href="#s" x="277.9" y="479.1"/>
<use href="#s" x="285.5" y="480.6"/>
<use href="#s" x="293.1" y="482.1"/>
<use href="#s" x="300.7" y="483.4"/>
<use href="#s" x="308.4" y="484.9"/>
<use href="#s" x="316" y="486.4"/>
<use href="#s" x="323.6" y="487.3"/>
<use href="#s" x="331.2" y="488.4"/>
<use href="#s" x="338.8" y="489.7"/>
<use href="#s" x="346.4" y="491.1"/>
<use href="#s" x="354" y="492.5"/>
<use href="#s" x="361.6" y="494.1"/>
<use href="#s" x="369.2" y="495.7"/>
<use href="#s" x="376.9" y="497.3"/>
<use href="#s" x="384.5" y="498.9"/>
<use href="#s" x="392.1" y="500.6"/>
<use href="#s" x="395.9" y="501.5"/>
<use href="#s" x="399.7" y="502.5"/>
<use href="#s" x="403.5" y="503.7"/>
<use href="#s" x="407.3" y="504.9"/>
<use href="#s" x="411.1" y="506.2"/>
<use href="#s" x="414.9" y="507.5"/>
<use href="#s" x="418.7" y="508.8"/>
<use href="#s" x="422.5" y="510.1"/>
<use href="#s" x="426.3" y="511.3"/>
<use href="#s" x="430.1" y="512.6"/>
<use href="#s" x="433.9" y="513.8"/>
<use href="#s" x="437.8" y="515"/>
<use href="#s" x="441.6" y="516.2"/>
<use href="#s" x="445.4" y="517.4"/>
<use href="#s" x="449.2" y="518.7"/>
<use href="#s" x="453" y="520"/>
<use href="#s" x="456.8" y="521.4"/>
<use href="#s" x="460.6" y="522.8"/>
<use href="#s" x="464.4" y="524.2"/>
<use href="#s" x="468.2" y="525.6"/>
<use href="#s" x="472" y="527"/>
<use href="#s" x="475.8" y="528.6"/>
<use href="#s" x="479.6" y="530.6"/>
<use href="#s" x="483.4" y="532.8"/>
<use href="#s" x="487.2" y="535.2"/>
<use href="#s" x="491" y="537.5"/>
<use href="#s" x="494.8" y="539.7"/>
<use href="#s" x="498.7" y="541.6"/>
<use href="#s" x="502.5" y="543.5"/>
<use href="#s" x="506.3" y="545.4"/>
<use href="#s" x="510.1" y="547.5"/>
<use href="#s" x="513.9" y="550"/>
<use href="#s" x="517.7" y="552.8"/>
<use href="#s" x="521.5" y="555.5"/>
<use href="#s" x="525.3" y="558.4"/>
<use href="#s" x="529.1" y="561.4"/>
<use href="#s" x="532.9" y="564.6"/>
<use href="#s" x="536.7" y="568"/>
<use href="#s" x="540.5" y="571.7"/>
<use href="#s" x="544.3" y="575.5"/>
<use href="#s" x="548.1" y="580"/>
<use href="#s" x="551.9" y="586.2"/>
<use href="#s" x="555.7" y="593.7"/>
<use href="#s" x="559.5" y="607.7"/>
<use href="#s" x="563.4" y="615"/>
<use href="#s" x="567.2" y="616.8"/>
<use href="#s" x="571" y="617.3"/>
<use href="#s" x="574.8" y="617.5"/>
<use href="#s" x="578.6" y="617.6"/>
<use href="#s" x="582.4" y="617.8"/>
<use href="#s" x="586.2" y="617.9"/>
<use href="#s" x="590" y="617.9"/>
<use href="#s" x="593.8" y="618"/>
<use href="#s" x="597.6" y="618.1"/>
<use href="#s" x="601.4" y="618.1"/>
<use href="#s" x="605.2" y="618.2"/>
<use href="#s" x="609" y="618.3"/>
<use href="#s" x="612.8" y="618.3"/>
<use href="#s" x="616.6" y="618.4"/>
<use href="#s" x="620.4" y="618.4"/>
<use href="#s" x="624.2" y="618.5"/>
<use href="#s" x="628.1" y="618.5"/>
<use href="#s" x="631.9" y="618.6"/>
<use href="#s" x="635.7" y="618.6"/>
<use href="#s" x="639.5" y="618.7"/>
<use href="#s" x="643.3" y="618.7"/>
<use href="#s" x="647.1" y="618.8"/>
<use href="#s" x="650.9" y="618.8"/>
<use href="#s" x="654.7" y="618.9"/>
<use href="#s" x="658.5" y="618.9"/>
<use href="#s" x="662.3" y="618.9"/>
<use href="#s" x="666.1" y="619"/>
<use href="#s" x="669.9" y="619"/>
<use href="#s" x="673.7" y="619.1"/>
<use href="#s" x="677.5" y="619.1"/>
<use href="#s" x="681.3" y="619.1"/>
<use href="#s" x="685.1" y="619.2"/>
<use href="#s" x="689" y="619.2"/>
<use href="#s" x="692.8" y="619.2"/>
<use href="#s" x="696.6" y="619.3"/>
<use href="#s" x="700.4" y="619.3"/>
<use href="#s" x="704.2" y="619.3"/>
<use href="#s" x="708" y="619.4"/>
<use href="#s" x="711.8" y="619.4"/>
<use href="#s" x="715.6" y="619.4"/>
<use href="#s" x="719.4" y="619.4"/>
</g>
<g>
<use href="#a" x="156.1" y="370.9"/>
<use href="#a" x="163.7" y="388.1"/>
<use href="#a" x="171.3" y="409.1"/>
<use href="#a" x="178.9" y="424.9"/>
<use href="#a" x="186.6" y="436.8"/>
<use href="#a" x="194.2" y="445.2"/>
<use href="#a" x="201.8" y="451.9"/>
<use href="#a" x="209.4" y="457.2"/>
<use href="#a" x="217" y="461.2"/>
<use href="#a" x="224.6" y="464.9"/>
<use href="#a" x="232.2" y="467.6"/>
<use href="#a" x="239.8" y="470.1"/>
<use href="#a" x="247.5" y="472.1"/>
<use href="#a" x="255.1" y="473.9"/>
<use href="#a" x="262.7" y="475.9"/>
<use href="#a" x="270.3" y="477.6"/>
<use href="#a" x="277.9" y="479.1"/>
<use href="#a" x="285.5" y="480.6"/>
<use href="#a" x="293.1" y="482.1"/>
<use href="#a" x="300.7" y="483.4"/>
<use href="#a" x="308.4" y="484.9"/>
<use href="#a" x="316" y="486.4"/>
<use href="#a" x="323.6" y="487.3"/>
<use href="#a" x="331.2" y="488.4"/>
<use href="#a" x="338.8" y="489.7"/>
<use href="#a" x="346.4" y="491.1"/>
<use href="#a" x="354" y="492.5"/>
<use href="#a" x="361.6" y="494.1"/>
<use href="#a" x="369.2" y="495.7"/>
<use href="#a" x="376.9" y="497.3"/>
<use href="#a" x="384.5" y="498.9"/>
<use href="#a" x="392.1" y="500.6"/>
<use href="#a" x="395.9" y="501.5"/>
<use href="#a" x="399.7" y="502.5"/>
<use href="#a" x="403.5" y="503.7"/>
<use href="#a" x="407.3" y="504.9"/>
<use href="#a" x="411.1" y="506.2"/>
<use href="#a" x="414.9" y="507.5"/>
<use href="#a" x="418.7" y="508.8"/>
<use href="#a" x="422.5" y="510.1"/>
<use href="#a" x="426.3" y="511.3"/>
<use href="#a" x="430.1" y="512.6"/>
<use href="#a" x="433.9" y="513.8"/>
<use href="#a" x="437.8" y="515"/>
<use href="#a" x="441.6" y="516.2"/>
<use href="#a" x="445.4" y="517.4"/>
<use href="#a" x="449.2" y="518.7"/>
<use href="#a" x="453" y="520"/>
<use href="#a" x="456.8" y="521.4"/>
<use href="#a" x="460.6" y="522.8"/>
<use href="#a" x="464.4" y="524.2"/>
<use href="#a" x="468.2" y="525.6"/>
<use href="#a" x="472" y="527"/>
<use href="#a" x="475.8" y="528.6"/>
<use href="#a" x="479.6" y="530.6"/>
<use href="#a" x="483.4" y="532.8"/>
<use href="#a" x="487.2" y="535.2"/>
<use href="#a" x="491" y="537.5"/>
<use href="#a" x="494.8" y="539.7"/>
<use href="#a" x="498.7" y="541.6"/>
<use href="#a" x="502.5" y="543.5"/>
<use href="#a" x="506.3" y="545.4"/>
<use href="#a" x="510.1" y="547.5"/>
<use href="#a" x="513.9" y="550"/>
<use href="#a" x="517.7" y="552.8"/>
<use href="#a" x="521.5" y="555.5"/>
<use href="#a" x="525.3" y="558.4"/>
<use href="#a" x="529.1" y="561.4"/>
<use href="#a" x="532.9" y="564.6"/>
<use href="#a" x="536.7" y="568"/>
<use href="#a" x="540.5" y="571.7"/>
<use href="#a" x="544.3" y="575.5"/>
<use href="#a" x="548.1" y="580"/>
<use href="#a" x="551.9" y="586.2"/>
<use href="#a" x="555.7" y="590.7"/>
<use href="#a" x="559.5" y="603.8"/>
<use href="#a" x="563.4" y="615"/>
<use href="#a" x="567.2" y="616.8"/>
<use href="#a" x="571" y="617.3"/>
<use href="#a" x="574.8" y="617.5"/>
<use href="#a" x="578.6" y="617.6"/>
<use href="#a" x="582.4" y="617.8"/>
<use href="#a" x="586.2" y="617.9"/>
<use href="#a" x="590" y="617.9"/>
<use href="#a" x="593.8" y="618"/>
<use href="#a" x="597.6" y="618.1"/>
<use href="#a" x="601.4" y="618.1"/>
<use href="#a" x="605.2" y="618.2"/>
<use href="#a" x="609" y="618.3"/>
<use href="#a" x="612.8" y="618.3"/>
<use href="#a" x="616.6" y="618.4"/>
<use href="#a" x="620.4" y="618.4"/>
<use href="#a" x="624.2" y="618.5"/>
<use href="#a" x="628.1" y="618.5"/>
<use href="#a" x="631.9" y="618.6"/>
<use href="#a" x="635.7" y="618.6"/>
<use href="#a" x="639.5" y="618.7"/>
<use href="#a" x="643.3" y="618.7"/>
<use href="#a" x="647.1" y="618.8"/>
<use href="#a" x="650.9" y="618.8"/>
<use href="#a" x="654.7" y="618.9"/>
<use href="#a" x="658.5" y="618.9"/>
<use href="#a" x="662.3" y="618.9"/>
<use href="#a" x="666.1" y="619"/>
<use href="#a" x="669.9" y="619"/>
<use href="#a" x="673.7" y="619.1"/>
<use href="#a" x="677.5" y="619.1"/>
<use href="#a" x="681.3" y="619.1"/>
<use href="#a" x="685.1" y="619.2"/>
<use href="#a" x="689" y="619.2"/>
<use href="#a" x="692.8" y="619.2"/>
<use href="#a" x="696.6" y="619.3"/>
<use href="#a" x="700.4" y="619.3"/>
<use href="#a" x="704.2" y="619.3"/>
<use href="#a" x="708" y="619.4"/>
<use href="#a" x="711.8" y="619.4"/>
<use href="#a" x="715.6" y="619.4"/>
<use href="#a" x="719.4" y="619.4"/>
</g>
<g>
<use href="#p" x="156.1" y="370.9"/>
<use href="#p" x="163.7" y="388.1"/>
<use href="#p" x="171.3" y="409.1"/>
<use href="#p" x="178.9" y="424.9"/>
<use href="#p" x="186.6" y="436.8"/>
<use href="#p" x="194.2" y="445.2"/>
<use href="#p" x="201.8" y="451.9"/>
<use href="#p" x="209.4" y="457.2"/>
<use href="#p" x="217" y="461.2"/>
<use href="#p" x="224.6" y="464.9"/>
<use href="#p" x="232.2" y="467.6"/>
<use href="#p" x="239.8" y="470.1"/>
<use href="#p" x="247.5" y="472.1"/>
<use href="#p" x="255.1" y="473.9"/>
<use href="#p" x="262.7" y="475.9"/>
<use href="#p" x="270.3" y="477.6"/>
<use href="#p" x="277.9" y="479.1"/>
<use href="#p" x="285.5" y="480.6"/>
<use href="#p" x="293.1" y="482.1"/>
<use href="#p" x="300.7" y="483.4"/>
<use href="#p" x="308.4" y="484.9"/>
<use href="#p" x="316" y="486.4"/>
<use href="#p" x="323.6" y="487.3"/>
<use href="#p" x="331.2" y="488.4"/>
<use href="#p" x="338.8" y="489.7"/>
<use href="#p" x="346.4" y="491.1"/>
<use href="#p" x="354" y="492.5"/>
<use href="#p" x="361.6" y="494.1"/>
<use href="#p" x="369.2" y="495.7"/>
<use href="#p" x="376.9" y="497.3"/>
<use href="#p" x="384.5" y="498.9"/>
<use href="#p" x="392.1" y="500.6"/>
<use href="#p" x="395.9" y="501.5"/>
<use href="#p" x="399.7" y="502.5"/>
<use href="#p" x="403.5" y="503.7"/>
<use href="#p" x="407.3" y="504.9"/>
<use href="#p" x="411.1" y="506.2"/>
<use href="#p" x="414.9" y="507.5"/>
<use href="#p" x="418.7" y="508.8"/>
<use href="#p" x="422.5" y="510.1"/>
<use href="#p" x="426.3" y="511.3"/>
<use href="#p" x="430.1" y="512.6"/>
<use href="#p" x="433.9" y="513.8"/>
<use href="#p" x="437.8" y="515"/>
<use href="#p" x="441.6" y="516.2"/>
<use href="#p" x="445.4" y="517.4"/>
<use href="#p" x="449.2" y="518.7"/>
<use href="#p" x="453" y="520"/>
<use href="#p" x="456.8" y="521.4"/>
<use href="#p" x="460.6" y="522.8"/>
<use href="#p" x="464.4" y="524.2"/>
<use href="#p" x="468.2" y="525.6"/>
<use href="#p" x="472" y="527"/>
<use href="#p" x="475.8" y="528.6"/>
<use href="#p" x="479.6" y="530.6"/>
<use href="#p" x="483.4" y="532.8"/>
<use href="#p" x="487.2" y="535.2"/>
<use href="#p" x="491" y="537.5"/>
<use href="#p" x="494.8" y="539.7"/>
<use href="#p" x="498.7" y="541.6"/>
<use href="#p" x="502.5" y="543.5"/>
<use href="#p" x="506.3" y="545.4"/>
<use href="#p" x="510.1" y="547.5"/>
<use href="#p" x="513.9" y="550"/>
<use href="#p" x="517.7" y="552.8"/>
<use href="#p" x="521.5" y="555.5"/>
<use href="#p" x="525.3" y="558.4"/>
<use href="#p" x="529.1" y="561.4"/>
<use href="#p" x="532.9" y="564.6"/>
<use href="#p" x="536.7" y="568"/>
<use href="#p" x="540.5" y="571.7"/>
<use href="#p" x="544.3" y="575.5"/>
<use href="#p" x="548.1" y="580"/>
<use href="#p" x="551.9" y="586.2"/>
<use href="#p" x="555.7" y="590.7"/>
<use href="#p" x="559.5" y="603.8"/>
<use href="#p" x="563.4" y="615"/>
<use href="#p" x="567.2" y="616.8"/>
<use href="#p" x="571" y="617.3"/>
<use href="#p" x="574.8" y="617.5"/>
<use href="#p" x="578.6" y="617.6"/>
<use href="#p" x="582.4" y="617.8"/>
<use href="#p" x="586.2" y="617.9"/>
<use href="#p" x="590" y="617.9"/>
<use href="#p" x="593.8" y="618"/>
<use href="#p" x="597.6" y="618.1"/>
<use href="#p" x="601.4" y="618.1"/>
<use href="#p" x="605.2" y="618.2"/>
<use href="#p" x="609" y="618.3"/>
<use href="#p" x="612.8" y="618.3"/>
<use href="#p" x="616.6" y="618.4"/>
<use href="#p" x="620.4" y="618.4"/>
<use href="#p" x="624.2" y="618.5"/>
<use href="#p" x="628.1" y="618.5"/>
<use href="#p" x="631.9" y="618.6"/>
<use href="#p" x="635.7" y="618.6"/>
<use href="#p" x="639.5" y="618.7"/>
<use href="#p" x="643.3" y="618.7"/>
<use href="#p" x="647.1" y="618.8"/>
<use href="#p" x="650.9" y="618.8"/>
<use href="#p" x="654.7" y="618.9"/>
<use href="#p" x="658.5" y="618.9"/>
<use href="#p" x="662.3" y="618.9"/>
<use href="#p" x="666.1" y="619"/>
<use href="#p" x="669.9" y="619"/>
<use href="#p" x="673.7" y="619.1"/>
<use href="#p" x="677.5" y="619.1"/>
<use href="#p" x="681.3" y="619.1"/>
<use href="#p" x="685.1" y="619.2"/>
<use href="#p" x="689" y="619.2"/>
<use href="#p" x="692.8" y="619.2"/>
<use href="#p" x="696.6" y="619.3"/>
<use href="#p" x="700.4" y="619.3"/>
<use href="#p" x="704.2" y="619.3"/>
<use href="#p" x="708" y="619.4"/>
<use href="#p" x="711.8" y="619.4"/>
<use href="#p" x="715.6" y="619.4"/>
<use href="#p" x="719.4" y="619.4"/>
</g>
</g>
<rect class="fr" x="148.5" y="22.6" width="570.9" height="287.8"/>
<rect class="fr" x="148.5" y="369.3" width="570.9" height="250.9"/>
<g font-size="37" opacity="0.999">
<text x="125.3" y="35.2" text-anchor="end">1</text>
<text x="125.3" y="381.9" text-anchor="end">1</text>
<text x="125.3" y="92.8" text-anchor="end">0.8</text>
<text x="125.3" y="432.1" text-anchor="end">0.8</text>
<text x="125.3" y="150.3" text-anchor="end">0.6</text>
<text x="125.3" y="482.3" text-anchor="end">0.6</text>
<text x="125.3" y="207.9" text-anchor="end">0.4</text>
<text x="125.3" y="532.4" text-anchor="end">0.4</text>
<text x="125.3" y="265.4" text-anchor="end">0.2</text>
<text x="125.3" y="582.6" text-anchor="end">0.2</text>
<text x="125.3" y="323" text-anchor="end">0</text>
<text x="125.3" y="632.8" text-anchor="end">0</text>
<text x="153" y="353" text-anchor="middle">0</text>
<text x="295.7" y="353" text-anchor="middle">0.3</text>
<text x="438.4" y="353" text-anchor="middle">0.6</text>
<text x="581.2" y="353" text-anchor="middle">0.9</text>
<text x="723.9" y="353" text-anchor="middle">1.2</text>
<text x="153" y="662" text-anchor="middle">0</text>
<text x="343.3" y="662" text-anchor="middle">0.5</text>
<text x="533.6" y="662" text-anchor="middle">1</text>
<text x="723.9" y="662" text-anchor="middle">1.5</text>
<text transform="translate(153.4 293.2) scale(1 0.883)" font-size="39.8">(</text>
<text x="166.65" y="296" font-size="39.8">a</text><text x="234.3" y="296.8" font-size="39.8">SC</text>
<text transform="translate(184.3 293.2) scale(1 0.883)" font-size="39.8">)</text>
<text transform="translate(153.3 607.6) scale(1 0.883)" font-size="39.8">(</text>
<text x="166.55" y="610.4" font-size="39.8">b</text><text x="235.4" y="610.7" font-size="39.3">BCC</text>
<text transform="translate(186 607.6) scale(1 0.883)" font-size="39.8">)</text>
<text transform="translate(43.4 166.6) rotate(-90)" text-anchor="middle" font-size="40.7">Magnetization</text>
<text transform="translate(43.4 494.5) rotate(-90)" text-anchor="middle" font-size="40.7">Magnetization</text>
<text class="it" x="378" y="700.3" font-size="40.7">k<tspan font-size="32.6" dy="12">B</tspan><tspan dy="-12" dx="0.6">T </tspan><tspan dx="1.6">/ </tspan><tspan dx="0.8">J</tspan></text>
<text class="it" x="314" y="52.8">M</text>
<text transform="translate(345.4 63.8) scale(1.12 1.02)" font-size="29.6" stroke-width="0.55">σ</text>
<text transform="translate(372.3 50.2) scale(1 0.883)" font-size="37">(</text>
<text class="it" x="384.6" y="52.8">S</text><text x="424" y="52.8">1</text>
<text transform="translate(442.5 50.2) scale(1 0.883)" font-size="37">)</text>
<path d="M404.2 39.2h18.6M404.2 46.4h18.6" stroke="#000" stroke-width="2.6" fill="none"/>
<text class="it" x="525.7" y="52.8">M</text>
<text class="it" x="556.3" y="64.2" font-size="29.6">S</text>
<text transform="translate(579.3 50.2) scale(1 0.883)" font-size="37">(</text>
<text class="it" x="591.6" y="52.8">S</text><text x="631" y="52.8">1</text>
<text transform="translate(649.5 50.2) scale(1 0.883)" font-size="37">)</text>
<path d="M611.2 39.2h18.6M611.2 46.4h18.6" stroke="#000" stroke-width="2.6" fill="none"/>
<text class="it" x="314" y="89.7">M</text>
<text transform="translate(345.4 100.7) scale(1.12 1.02)" font-size="29.6" stroke-width="0.55">σ</text>
<text transform="translate(372.3 87.1) scale(1 0.883)" font-size="37">(</text>
<text class="it" x="384.6" y="89.7">S</text><text x="424" y="89.7">2</text>
<text transform="translate(442.5 87.1) scale(1 0.883)" font-size="37">)</text>
<path d="M404.2 76.1h18.6M404.2 83.3h18.6" stroke="#000" stroke-width="2.6" fill="none"/>
<text class="it" x="525.7" y="89.7">M</text>
<text class="it" x="556.3" y="101.1" font-size="29.6">S</text>
<text transform="translate(579.3 87.1) scale(1 0.883)" font-size="37">(</text>
<text class="it" x="591.6" y="89.7">S</text><text x="631" y="89.7">2</text>
<text transform="translate(649.5 87.1) scale(1 0.883)" font-size="37">)</text>
<path d="M611.2 76.1h18.6M611.2 83.3h18.6" stroke="#000" stroke-width="2.6" fill="none"/>
<text class="it" x="314" y="126.6">M</text>
<text transform="translate(345.4 137.6) scale(1.12 1.02)" font-size="29.6" stroke-width="0.55">σ</text>
<text transform="translate(372.3 124) scale(1 0.883)" font-size="37">(</text>
<text class="it" x="384.6" y="126.6">S</text><text x="424" y="126.6">3</text>
<text transform="translate(442.5 124) scale(1 0.883)" font-size="37">)</text>
<path d="M404.2 113h18.6M404.2 120.2h18.6" stroke="#000" stroke-width="2.6" fill="none"/>
<text class="it" x="525.7" y="126.6">M</text>
<text class="it" x="556.3" y="138" font-size="29.6">S</text>
<text transform="translate(579.3 124) scale(1 0.883)" font-size="37">(</text>
<text class="it" x="591.6" y="126.6">S</text><text x="631" y="126.6">3</text>
<text transform="translate(649.5 124) scale(1 0.883)" font-size="37">)</text>
<path d="M611.2 113h18.6M611.2 120.2h18.6" stroke="#000" stroke-width="2.6" fill="none"/>
</g>
<use href="#c" x="480.6" y="43.9"/>
<use href="#t" x="480.6" y="81"/>
<use href="#x" x="480.6" y="118.2"/>
<use href="#s" x="688.1" y="43.7"/>
<use href="#a" x="688" y="81.1"/>
<use href="#p" x="688" y="117.9"/>
</svg>
</body></html>
